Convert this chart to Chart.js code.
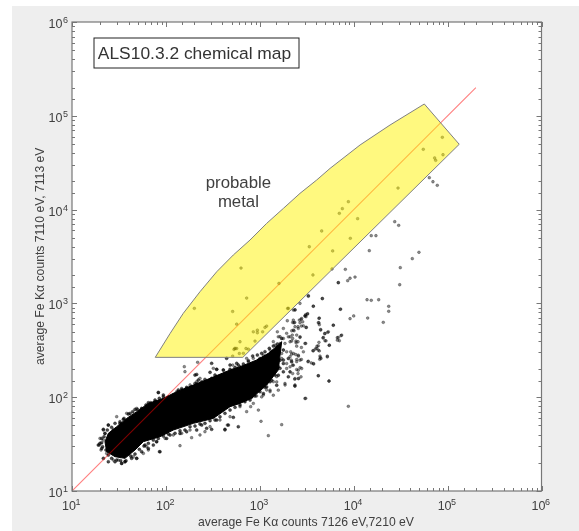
<!DOCTYPE html>
<html>
<head>
<meta charset="utf-8">
<style>
    html, body { margin: 0; padding: 0; background: #fff; }
    #wrap { position: absolute; left: 12px; top: 6px; width: 567px; height: 525px; background: #eeeeee; }
    canvas { display: block; }
</style>
<script src="https://cdn.jsdelivr.net/npm/chart.js@4/dist/chart.umd.min.js"></script>
</head>
<body>
<div id="wrap"><canvas id="chart" width="567" height="525"></canvas></div>
<script>
// axis decades
const tickExponents = [1, 2, 3, 4, 5, 6];

// red 1:1 reference line (counts)
const lineX = [10, 200000];
const lineY = [10, 200000];

// yellow "probable metal" region (counts)
const regionX = [77, 660, 133000, 56500, 24400, 11700, 5600, 4040, 2680, 1782, 1183, 787, 522, 348, 231, 153, 111, 77];
const regionY = [266, 266, 49700, 133700, 79800, 48900, 27500, 20700, 14900, 10300, 7130, 4740, 3280, 2178, 1334, 783, 479, 266];

// saturated core of the cloud, outline (log10 counts)
const coreLogX = [1.351, 1.387, 1.476, 1.582, 1.689, 1.813, 1.973, 2.115, 2.292, 2.470, 2.683, 2.789, 2.966, 3.091, 3.197, 3.233, 3.197, 3.073, 2.913, 2.789, 2.683, 2.505, 2.292, 2.079, 1.937, 1.760, 1.671, 1.564, 1.458, 1.369, 1.351];
const coreLogY = [1.526, 1.615, 1.686, 1.774, 1.846, 1.934, 1.988, 2.059, 2.130, 2.201, 2.290, 2.325, 2.396, 2.468, 2.557, 2.592, 2.290, 2.130, 1.988, 1.934, 1.899, 1.774, 1.721, 1.650, 1.579, 1.526, 1.437, 1.348, 1.366, 1.419, 1.526];

// speckle along the edge of the core (log10 counts)
const fringeLogX = [
    1.334, 1.351, 1.316, 1.280, 1.387, 1.440, 1.511, 1.547, 1.671, 1.618, 1.742, 1.813, 1.919, 1.973, 1.884, 2.132, 2.168,
    2.221, 2.310, 2.345, 2.310, 2.328, 2.470, 2.416, 2.523, 2.487, 2.541, 2.612, 2.683, 2.754, 2.736, 2.647,
    1.298, 1.316, 1.334, 1.387, 1.458, 1.529, 1.564, 1.635, 1.689, 1.742, 1.813, 1.866, 1.937, 2.150, 2.008, 2.044, 2.328,
    2.434, 2.487, 2.629, 2.665, 2.718, 2.771, 2.541, 2.381, 2.221, 1.901, 1.777,
    1.316, 1.341, 1.376, 1.422, 1.458, 1.511, 1.554, 1.600, 1.646, 1.696, 1.742, 1.788, 1.838, 1.884, 1.930, 1.973, 2.026,
    2.079, 2.132, 2.178, 2.221, 2.274, 2.328, 2.381, 2.427, 2.487, 2.533, 2.576, 2.629, 2.683, 2.736, 2.771, 2.825, 2.878,
    2.924, 2.974, 3.020, 3.055, 3.101, 3.144, 3.187, 3.233,
    1.326, 1.362, 1.387, 1.422, 1.476, 1.518, 1.575, 1.625, 1.671, 1.717, 1.767, 1.813, 1.866, 1.919, 1.973, 2.026, 2.097,
    2.150, 2.203, 2.257, 2.310, 2.363, 2.416, 2.470, 2.523, 2.576, 2.629, 2.683, 2.736, 2.789, 2.842, 2.896, 2.949, 3.002,
    3.055, 3.109, 3.162, 3.215, 3.251,
    3.002, 3.055, 3.091, 3.144, 3.187, 3.215, 3.162, 3.109, 3.197, 3.251, 3.304, 3.339, 3.144, 3.091, 3.197, 3.251, 3.304,
    3.038, 3.126, 3.180, 3.002, 3.073, 2.949, 3.038, 2.913
];
const fringeLogY = [
    1.657, 1.614, 1.561, 1.490, 1.703, 1.650, 1.721, 1.764, 1.870, 1.827, 1.881, 1.941, 2.051, 2.005, 1.970, 2.059, 2.083,
    2.094, 2.147, 2.183, 2.236, 2.243, 2.265, 2.190, 2.236, 2.361, 2.297, 2.289, 2.343, 2.361, 2.520, 2.414,
    1.508, 1.454, 1.348, 1.312, 1.312, 1.294, 1.312, 1.348, 1.348, 1.419, 1.454, 1.490, 1.419, 1.614, 1.561, 1.597, 1.650,
    1.668, 1.657, 1.657, 1.703, 1.785, 1.685, 1.756, 1.703, 1.632, 1.525, 1.490,
    1.515, 1.579, 1.650, 1.679, 1.721, 1.739, 1.774, 1.821, 1.846, 1.870, 1.870, 1.917, 1.941, 1.952, 1.988, 2.023, 1.998,
    2.023, 2.077, 2.069, 2.105, 2.112, 2.130, 2.165, 2.155, 2.201, 2.212, 2.226, 2.254, 2.297, 2.318, 2.343, 2.354, 2.389,
    2.439, 2.450, 2.468, 2.485, 2.521, 2.546, 2.567, 2.627,
    1.472, 1.437, 1.383, 1.348, 1.330, 1.323, 1.323, 1.373, 1.394, 1.444, 1.479, 1.508, 1.543, 1.561, 1.586, 1.607, 1.615,
    1.643, 1.650, 1.686, 1.693, 1.714, 1.721, 1.750, 1.757, 1.792, 1.828, 1.863, 1.892, 1.917, 1.952, 1.970, 2.013, 2.059,
    2.105, 2.165, 2.236, 2.308, 2.396,
    2.413, 2.395, 2.448, 2.423, 2.448, 2.395, 2.359, 2.341, 2.324, 2.359, 2.413, 2.377, 2.288, 2.252, 2.235, 2.270, 2.217,
    2.181, 2.181, 2.128, 2.110, 2.110, 2.057, 2.039, 2.003
];

// single pixels (log10 counts)
const pointLogX = [
    4.944, 4.741, 4.862, 4.873, 4.951, 4.805, 4.844, 4.890, 4.472, 3.943, 3.879, 3.847, 4.042, 3.659, 3.964, 3.527, 3.776,
    4.437, 4.479, 4.187, 4.237, 4.166, 4.695, 4.624, 4.496, 3.769, 3.911, 3.566, 3.836, 3.936, 3.961, 4.014, 4.490, 3.517,
    3.666, 4.142, 4.187, 4.266, 4.373, 4.373, 3.570, 3.857, 3.375, 3.489, 3.510, 3.634, 3.961, 4.000, 4.149, 4.315, 3.623,
    3.634, 3.783, 3.648, 3.723, 3.691, 3.865, 3.825, 3.847, 3.673, 3.694, 3.740, 3.630, 3.609, 3.591, 3.566, 3.634, 3.719,
    3.644, 3.638, 3.513, 3.548, 3.574, 3.623, 3.737, 3.489, 3.943,
    2.196, 2.338, 1.920, 2.150, 1.930, 2.274, 3.091, 3.233, 3.013, 2.985, 2.903, 2.860, 2.654, 2.629, 2.416, 2.363, 2.203,
    2.363, 2.328, 2.505, 2.541, 2.611, 2.711, 2.789, 2.860, 2.878, 2.931, 2.985, 2.825, 3.144, 3.215, 3.286, 3.357, 3.251,
    3.322, 3.393, 3.269, 3.375, 3.144, 3.073, 3.038, 2.966, 2.931, 3.109, 3.357, 3.304, 3.428,
    1.291, 1.309, 1.334, 1.351, 1.387, 1.405, 1.369, 1.440, 1.529, 1.564, 1.689, 1.760, 1.813, 1.902, 1.991, 2.079, 2.168,
    2.257, 1.795, 1.653, 1.493, 1.476, 1.582, 1.689, 1.795, 1.902, 2.044, 2.115, 2.168, 2.257, 2.328, 2.434, 2.541, 2.647,
    2.718, 2.896, 2.470, 2.576, 2.683, 2.789, 2.878, 2.966, 3.073, 3.180, 1.298, 1.334,
    3.375, 3.293, 3.357, 3.446, 3.481, 3.506, 3.428, 3.364, 3.492, 3.410, 3.251, 3.187, 3.197, 3.251, 3.304, 3.346, 3.428,
    3.385, 3.322, 3.268, 3.215, 3.162, 3.481, 3.570, 3.606, 3.623, 3.630, 3.630, 3.648, 3.570, 3.666, 3.836, 3.861, 3.783,
    3.730, 3.694, 3.677, 3.705, 3.740, 3.836, 3.826, 3.872, 3.719, 3.641, 3.652, 3.623, 3.517, 3.570, 3.339, 3.410, 3.464,
    3.428, 3.357, 3.286, 3.233, 3.286, 3.322, 3.410, 3.446, 3.623, 3.737, 3.375, 3.410, 3.268, 3.180, 3.375, 3.109, 3.197,
    3.144, 3.020, 3.481, 3.038, 3.109, 3.180, 3.251, 3.286, 3.233,
    2.860, 2.711, 2.754, 2.931, 2.974, 2.974, 3.030, 3.055, 3.073, 2.789, 2.949, 2.754, 2.725, 2.782, 2.853, 2.878, 2.711,
    3.297, 3.204, 3.517, 2.303, 2.800,
    3.350, 3.372, 3.421, 3.439, 3.457, 3.482, 3.492, 3.375, 3.340, 3.365, 3.407, 3.443, 3.496, 3.464, 3.322, 3.350, 3.393,
    3.429, 3.340, 3.386, 3.407, 3.489, 3.443, 3.393, 3.329, 3.358, 3.382, 3.411, 3.443, 3.336, 3.393, 3.350, 3.429, 3.322,
    3.393, 3.407, 3.350, 3.439, 3.372, 3.414, 3.372, 3.322
];
const pointLogY = [
    4.771, 4.643, 4.550, 4.525, 4.585, 4.340, 4.297, 4.259, 4.230, 4.084, 4.010, 3.960, 3.903, 3.772, 3.694, 3.604, 3.559,
    3.871, 3.832, 3.722, 3.722, 3.562, 3.545, 3.477, 3.381, 3.367, 3.363, 3.303, 3.221, 3.242, 3.268, 3.281, 3.199, 3.076,
    3.050, 3.039, 3.033, 3.039, 2.969, 2.916, 2.969, 2.937, 2.933, 2.880, 2.890, 2.844, 2.837, 2.866, 2.844, 2.798, 2.794,
    2.773, 2.766, 2.716, 2.692, 2.677, 2.656, 2.634, 2.602, 2.631, 2.602, 2.553, 2.585, 2.543, 2.514, 2.496, 2.493, 2.429,
    2.421, 2.404, 2.378, 2.365, 2.354, 2.229, 2.173, 1.988, 1.903,
    2.325, 2.372, 2.048, 1.483, 1.419, 1.568, 1.590, 1.707, 1.743, 1.863, 1.899, 1.846, 1.703, 1.650, 1.632, 1.597, 2.272,
    2.201, 2.165, 2.308, 2.297, 2.290, 2.343, 2.325, 2.414, 2.379, 2.414, 2.396, 2.468, 2.592, 2.645, 2.681, 2.716, 2.503,
    2.432, 2.379, 2.130, 2.130, 2.165, 2.077, 2.023, 2.013, 1.934, 2.059, 2.929, 2.947, 3.000,
    1.490, 1.437, 1.543, 1.615, 1.703, 1.437, 1.401, 1.330, 1.295, 1.312, 1.348, 1.401, 1.437, 1.526, 1.561, 1.597, 1.615,
    1.650, 1.472, 1.366, 1.330, 1.792, 1.828, 1.881, 1.899, 1.952, 1.988, 2.059, 2.094, 2.130, 2.148, 2.165, 2.219, 2.237,
    2.290, 2.325, 1.686, 1.757, 1.792, 1.899, 1.988, 2.077, 2.148, 2.219, 1.561, 1.650,
    2.929, 2.815, 2.822, 2.840, 2.865, 2.886, 2.793, 2.793, 2.744, 2.733, 2.733, 2.697, 2.644, 2.626, 2.644, 2.662, 2.637,
    2.598, 2.591, 2.573, 2.573, 2.555, 2.573, 2.494, 2.519, 2.548, 2.840, 2.793, 2.722, 2.971, 3.053, 3.221, 2.939, 2.769,
    2.697, 2.680, 2.637, 2.601, 2.555, 2.637, 2.608, 2.662, 2.438, 2.438, 2.413, 2.502, 2.384, 2.359, 2.459, 2.448, 2.484,
    2.395, 2.341, 2.359, 2.413, 2.306, 2.270, 2.288, 2.306, 2.228, 2.171, 2.199, 2.199, 2.146, 2.163, 2.117, 2.075, 2.075,
    2.021, 2.003, 1.986, 2.448, 2.502, 2.537, 2.502, 2.484, 2.466,
    3.057, 2.914, 2.779, 2.697, 2.715, 2.687, 2.697, 2.744, 2.758, 2.591, 2.598, 2.519, 2.509, 2.466, 2.519, 2.512, 2.438,
    2.946, 3.213, 3.082, 2.947, 3.377,
    2.797, 2.797, 2.822, 2.829, 2.804, 2.868, 2.858, 2.751, 2.708, 2.708, 2.751, 2.758, 2.744, 2.761, 2.644, 2.626, 2.662,
    2.644, 2.598, 2.580, 2.591, 2.573, 2.530, 2.544, 2.484, 2.466, 2.455, 2.437, 2.402, 2.395, 2.402, 2.341, 2.316, 2.324,
    2.295, 2.252, 2.252, 2.217, 2.192, 2.199, 2.121, 2.270
];

const darkText = '#404040';

function fromCounts(xs, ys) {
    return xs.map((x, i) => ({ x: x, y: ys[i] }));
}
function fromDecades(xs, ys) {
    return xs.map((x, i) => ({ x: Math.pow(10, x), y: Math.pow(10, ys[i]) }));
}

// MATLAB style frame: inward ticks, labels with a raised exponent
const framePlugin = {
    id: 'frame',
    beforeDraw(chart) {
        const { left, top, width, height } = chart.chartArea;
        chart.ctx.fillStyle = '#ffffff';
        chart.ctx.fillRect(left, top, width, height);
    },
    afterDraw(chart) {
        const ctx = chart.ctx;
        const { left, right, top, bottom } = chart.chartArea;
        const xs = chart.scales.x;
        const ys = chart.scales.y;
        ctx.save();

        ctx.strokeStyle = '#777777';
        ctx.lineWidth = 1;
        ctx.beginPath();
        xs.ticks.forEach(t => {
            const p = Math.round(xs.getPixelForValue(t.value)) + 0.5;
            const len = Number.isInteger(Math.log10(t.value)) ? 5 : 3;
            ctx.moveTo(p, bottom); ctx.lineTo(p, bottom - len);
            ctx.moveTo(p, top); ctx.lineTo(p, top + len);
        });
        ys.ticks.forEach(t => {
            const p = Math.round(ys.getPixelForValue(t.value)) + 0.5;
            const len = Number.isInteger(Math.log10(t.value)) ? 5 : 3;
            ctx.moveTo(left, p); ctx.lineTo(left + len, p);
            ctx.moveTo(right, p); ctx.lineTo(right - len, p);
        });
        ctx.stroke();
        ctx.lineWidth = 1.2;
        ctx.strokeRect(left, top, right - left, bottom - top);

        ctx.fillStyle = darkText;
        tickExponents.forEach(e => {
            const v = Math.pow(10, e);
            ctx.font = '12.5px "Liberation Sans"';
            ctx.textBaseline = 'alphabetic';
            ctx.textAlign = 'center';
            const px = xs.getPixelForValue(v);
            ctx.fillText('10', px - 3, bottom + 19);
            ctx.font = '9px "Liberation Sans"';
            ctx.fillText(String(e), px + 6, bottom + 14);

            const py = ys.getPixelForValue(v);
            ctx.font = '12.5px "Liberation Sans"';
            ctx.textAlign = 'right';
            ctx.fillText('10', left - 9.5, py + 6);
            ctx.font = '9px "Liberation Sans"';
            ctx.textAlign = 'left';
            ctx.fillText(String(e), left - 9, py + 1);
        });

        // axis titles
        ctx.font = '12.2px "Liberation Sans"';
        ctx.textAlign = 'center';
        ctx.fillText('average Fe K\u03b1 counts 7126 eV,7210 eV', 294, 519.5);
        ctx.save();
        ctx.translate(32, 250.3);
        ctx.rotate(-Math.PI / 2);
        ctx.fillText('average Fe K\u03b1 counts 7110 eV, 7113 eV', 0, 0);
        ctx.restore();

        // annotations
        ctx.fillStyle = '#ffffff';
        ctx.fillRect(82, 32, 205, 30);
        ctx.strokeStyle = '#222222';
        ctx.lineWidth = 1;
        ctx.strokeRect(82, 32, 205, 30);
        ctx.fillStyle = '#333333';
        ctx.font = '17.4px "Liberation Sans"';
        ctx.fillText('ALS10.3.2 chemical map', 182.5, 53);
        ctx.font = '16.8px "Liberation Sans"';
        ctx.fillStyle = darkText;
        ctx.fillText('probable', 226.4, 181.7);
        ctx.fillText('metal', 226.4, 201.3);
        ctx.restore();
    }
};

new Chart(document.getElementById('chart'), {
    type: 'scatter',
    data: {
        datasets: [
            {
                label: 'region',
                data: fromCounts(regionX, regionY),
                showLine: true,
                fill: 'shape',
                tension: 0,
                backgroundColor: 'rgba(255,244,0,0.5)',
                borderColor: '#808080',
                borderWidth: 1,
                pointRadius: 0,
                order: 1
            },
            {
                label: 'one to one',
                data: fromCounts(lineX, lineY),
                showLine: true,
                borderColor: 'rgba(255,0,0,0.5)',
                borderWidth: 1.1,
                pointRadius: 0,
                order: 2
            },
            {
                label: 'pixels',
                data: fromDecades(pointLogX, pointLogY),
                backgroundColor: 'rgba(0,0,0,0.45)',
                borderColor: 'rgba(0,0,0,0.55)',
                borderWidth: 0.5,
                pointRadius: 1.4,
                order: 3
            },
            {
                label: 'fringe',
                data: fromDecades(fringeLogX, fringeLogY),
                backgroundColor: 'rgba(0,0,0,0.7)',
                borderColor: 'rgba(0,0,0,0.7)',
                borderWidth: 0.5,
                pointRadius: 1.5,
                order: 3
            },
            {
                label: 'core',
                data: fromDecades(coreLogX, coreLogY),
                showLine: true,
                fill: 'shape',
                tension: 0,
                backgroundColor: '#000000',
                borderColor: '#000000',
                borderWidth: 1,
                pointRadius: 0,
                order: 4
            }
        ]
    },
    options: {
        responsive: false,
        animation: false,
        layout: { padding: { left: 60, right: 37.5, top: 16, bottom: 40 } },
        plugins: { legend: { display: false }, tooltip: { enabled: false } },
        scales: {
            x: {
                type: 'logarithmic', min: 10, max: 1000000,
                grid: { display: false }, border: { display: false },
                ticks: { display: false },
                afterFit: s => { s.height = 0; }
            },
            y: {
                type: 'logarithmic', min: 10, max: 1000000,
                grid: { display: false }, border: { display: false },
                ticks: { display: false },
                afterFit: s => { s.width = 0; }
            }
        }
    },
    plugins: [framePlugin]
});
</script>
</body>
</html>
